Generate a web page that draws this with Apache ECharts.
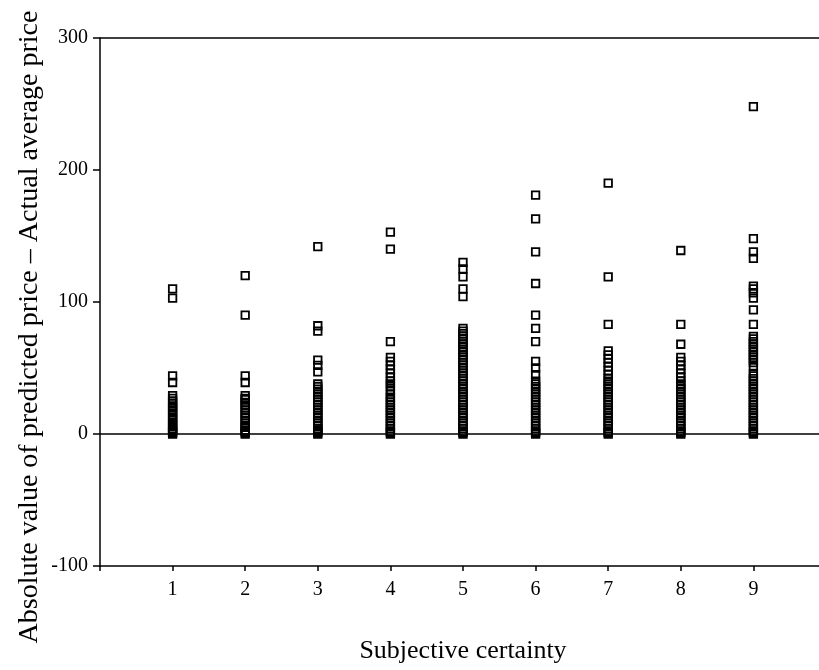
<!DOCTYPE html>
<html>
<head>
<meta charset="utf-8">
<script src="https://cdn.jsdelivr.net/npm/echarts@6/dist/echarts.min.js"></script>
<style>
  html, body { margin: 0; padding: 0; background: #fff; }
  #chart { width: 819px; height: 670px; }
</style>
</head>
<body>
<div id="chart"></div>
<script>
// subjective certainty levels
const categories = [1, 2, 3, 4, 5, 6, 7, 8, 9]

// absolute error per certainty level
const col1 = [110, 103, 44, 39, 29, 27, 25, 23, 21, 20, 18, 16, 14, 12, 11, 9, 7, 6, 4, 3, 2, 1, 0]
const col2 = [120, 90, 44, 39, 29, 27, 26, 24, 22, 20, 18, 16, 14, 12, 10, 8, 6, 5, 3, 2, 1, 0]
const col3 = [142, 82, 78, 56, 52, 47, 38, 36, 34, 32, 30, 28, 26, 24, 22, 20, 18, 16, 14, 12, 10, 8, 6, 4, 3, 2, 1, 0]
const col4 = [153, 140, 70, 58, 55, 52, 49, 46, 43, 40, 38, 36, 33, 30, 28, 26, 24, 22, 20, 18, 16, 14, 12, 10, 8, 6, 4, 2, 1, 0]
const col5 = [130, 125, 119, 110, 104, 80, 78, 76, 74, 72, 70, 68, 66, 64, 62, 60, 58, 56, 54, 52, 50, 48, 46, 44, 42, 40, 38, 36, 34, 32, 30, 28, 26, 24, 22, 20, 18, 16, 14, 12, 10, 8, 6, 4, 2, 1, 0]
const col6 = [181, 163, 138, 114, 90, 80, 70, 55, 50, 45, 40, 38, 36, 34, 32, 30, 28, 26, 24, 22, 20, 18, 16, 14, 12, 10, 8, 6, 4, 2, 1, 0]
const col7 = [190, 119, 83, 63, 60, 57, 54, 51, 48, 45, 42, 40, 38, 36, 34, 32, 30, 28, 26, 24, 22, 20, 18, 16, 14, 12, 10, 8, 6, 4, 2, 1, 0]
const col8 = [139, 83, 68, 58, 55, 52, 49, 46, 43, 40, 38, 36, 34, 32, 30, 28, 26, 24, 22, 20, 18, 16, 14, 12, 10, 8, 6, 4, 2, 1, 0]
const col9 = [248, 148, 138, 133, 112, 110, 107, 103, 94, 83, 74, 72, 70, 68, 66, 64, 62, 60, 58, 56, 54, 51, 46, 44, 42, 40, 38, 36, 34, 32, 30, 28, 26, 24, 22, 20, 18, 16, 14, 12, 10, 8, 6, 4, 2, 1, 0]
const columns = [col1, col2, col3, col4, col5, col6, col7, col8, col9]

const yTicks = [-100, 0, 100, 200, 300]

const points = []
categories.forEach((c, i) => {
  columns[i].forEach(v => points.push([c, v]))
})

const font = "'Liberation Serif', 'Times New Roman', serif"

const chart = echarts.init(document.getElementById('chart'))

const option = {
  backgroundColor: '#fff',
  animation: false,
  grid: {
    left: 100,
    top: 38,
    width: 726,
    height: 528,
    outerBoundsMode: 'none'
  },
  xAxis: {
    type: 'value',
    min: 0,
    max: 10,
    interval: 1,
    name: 'Subjective certainty',
    nameLocation: 'middle',
    nameGap: 72,
    nameTextStyle: { fontFamily: font, fontSize: 26, color: '#000' },
    axisLine: { onZero: false, lineStyle: { color: '#000', width: 1.5 } },
    axisTick: { length: 5, lineStyle: { color: '#000', width: 1.5 } },
    axisLabel: {
      fontFamily: font,
      fontSize: 20,
      color: '#000',
      margin: 14,
      formatter: v => (categories.indexOf(v) >= 0 ? String(v) : '')
    },
    splitLine: { show: false }
  },
  yAxis: {
    type: 'value',
    min: yTicks[0],
    max: yTicks[yTicks.length - 1],
    interval: 100,
    axisLine: { show: true, lineStyle: { color: '#000', width: 1.5 } },
    axisTick: { show: true, length: 7, lineStyle: { color: '#000', width: 1.5 } },
    axisLabel: { fontFamily: font, fontSize: 20, color: '#000', margin: 12 },
    splitLine: { show: false }
  },
  graphic: [
    {
      type: 'text',
      x: 30,
      y: 327,
      rotation: Math.PI / 2,
      style: {
        text: 'Absolute value of predicted price \u2013 Actual average price',
        font: '28px ' + font,
        fill: '#000',
        align: 'center',
        verticalAlign: 'middle'
      }
    }
  ],
  series: [
    {
      type: 'scatter',
      data: points,
      symbol: 'rect',
      symbolSize: 7.5,
      itemStyle: { color: 'transparent', borderColor: '#000', borderWidth: 1.8, opacity: 1 },
      markLine: {
        silent: true,
        symbol: 'none',
        label: { show: false },
        lineStyle: { color: '#000', width: 1.5, type: 'solid' },
        data: [{ yAxis: 0 }, { yAxis: 300 }]
      }
    }
  ]
}

option && chart.setOption(option)
</script>
</body>
</html>
